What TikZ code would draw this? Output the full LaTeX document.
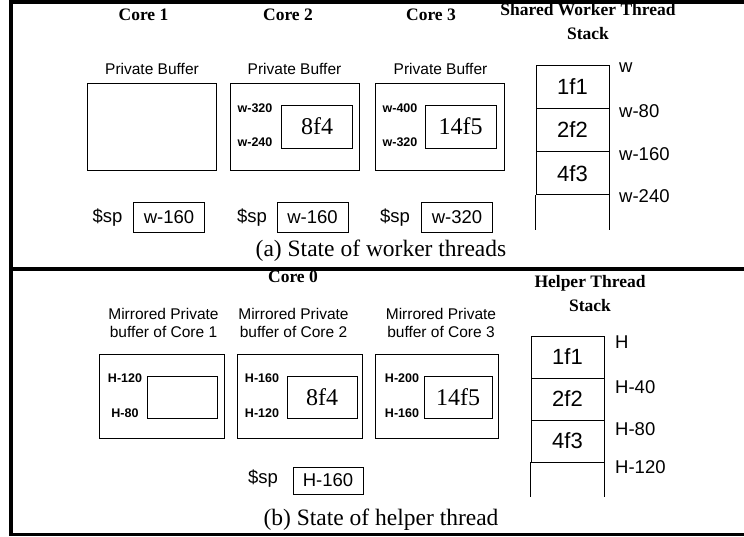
\documentclass[tikz,border=0pt]{standalone}
\usepackage{fontspec}
\setmainfont{Liberation Serif}
\setsansfont{Liberation Sans}

\begin{document}
\begin{tikzpicture}[x=1bp,y=-1bp,
  frame/.style={line width=3.3bp, line cap=rect},
  coretitle/.style={font=\fontsize{17.5bp}{20bp}\selectfont\bfseries, anchor=base, inner sep=0},
  buftitle/.style={font=\sffamily\fontsize{15.5bp}{19bp}\selectfont, anchor=base, inner sep=0},
  bufbox/.style={draw, line width=0.9bp, minimum width=129bp, minimum height=87bp, inner sep=0},
  innerbox/.style={draw, line width=0.9bp, minimum width=71bp, minimum height=43bp, inner sep=0,
                   font=\fontsize{24bp}{28bp}\selectfont},
  addr/.style={font=\sffamily\bfseries\fontsize{12.5bp}{14bp}\selectfont, anchor=base, inner sep=0},
  sptxt/.style={font=\sffamily\fontsize{18.5bp}{22bp}\selectfont, anchor=base, inner sep=0},
  spbox/.style={draw, line width=0.9bp, minimum width=71bp, minimum height=30bp, inner sep=0,
                font=\sffamily\fontsize{18.5bp}{22bp}\selectfont},
  cell/.style={draw, line width=0.9bp, minimum width=73bp, minimum height=43bp, inner sep=0,
               font=\sffamily\fontsize{22bp}{26bp}\selectfont},
  cellb/.style={cell, minimum height=42bp},
  stlabel/.style={font=\sffamily\fontsize{18.5bp}{22bp}\selectfont, anchor=base west, inner sep=0},
  caption/.style={font=\fontsize{23.5bp}{27bp}\selectfont, anchor=base, inner sep=0},
  wall/.style={line width=0.9bp}
]
\useasboundingbox (0,0) rectangle (744,537);

% ---------- frame ----------
\coordinate (tl) at (11,2);
\coordinate (tr) at (744,2);
\coordinate (ml) at (11,269);
\coordinate (mr) at (744,269);
\coordinate (bl) at (11,534.5);
\coordinate (br) at (744,534.5);
\draw[frame] (tr) -- (tl) -- (bl) -- (br);
\draw[frame, line width=3.8bp] (ml) -- (mr);

% ---------- (a) worker threads ----------
\node[coretitle] (core1) at (143.5,21) {Core 1};
\node[coretitle] (core2) at (288,21) {Core 2};
\node[coretitle] (core3) at (431,21) {Core 3};
\node[coretitle] (swt1) at (588,15.5) {Shared Worker Thread};
\node[coretitle] (swt2) at (588,39.5) {Stack};

\node[buftitle] (pb1) at (152,75) {Private Buffer};
\node[buftitle] (pb2) at (294.5,75) {Private Buffer};
\node[buftitle] (pb3) at (440.5,75) {Private Buffer};

\node[bufbox] (b1) at (151.5,126.5) {};
\node[bufbox] (b2) at (294.5,126.5) {};
\node[bufbox] (b3) at (439.5,126.5) {};

\node[innerbox] (f4) at (317,126.5) {8f4};
\node[innerbox] (f5) at (460.5,126.5) {14f5};

\node[addr] (a2t) at (255,112.3) {w-320};
\node[addr] (a2b) at (255,147) {w-240};
\node[addr] (a3t) at (400,112.3) {w-400};
\node[addr] (a3b) at (400,147) {w-320};

\node[sptxt] (sp1) at (107.5,223) {\$sp};
\node[spbox] (r1) at (169,217) {w-160};
\node[sptxt] (sp2) at (252,223) {\$sp};
\node[spbox] (r2) at (312.5,217) {w-160};
\node[sptxt] (sp3) at (395,223) {\$sp};
\node[spbox] (r3) at (457,217) {w-320};

\node[cell] (s1) at (572.5,86.7) {1f1};
\node[cell] (s2) at (572.5,130) {2f2};
\node[cell] (s3) at (572.5,173.3) {4f3};
\draw[wall] (s3.south west) -- ++(0,35);
\draw[wall] (s3.south east) -- ++(0,35);

\node[stlabel] (w0) at (619,73) {w};
\node[stlabel] (w1) at (619,118) {w-80};
\node[stlabel] (w2) at (619,161) {w-160};
\node[stlabel] (w3) at (619,203) {w-240};

\node[caption] (capa) at (381,257) {(a) State of worker threads};

% ---------- (b) helper thread ----------
\node[coretitle] (core0) at (293,283) {Core 0};
\node[coretitle] (ht1) at (590,288) {Helper Thread};
\node[coretitle] (ht2) at (590,311) {Stack};

\node[buftitle] (m1a) at (163.5,319) {Mirrored Private};
\node[buftitle] (m1b) at (163.5,337) {buffer of Core 1};
\node[buftitle] (m2a) at (293.5,319) {Mirrored Private};
\node[buftitle] (m2b) at (293.5,337) {buffer of Core 2};
\node[buftitle] (m3a) at (441,319) {Mirrored Private};
\node[buftitle] (m3b) at (441,337) {buffer of Core 3};

\node[bufbox, minimum width=125bp, minimum height=84bp] (hb1) at (161.5,396) {};
\node[bufbox, minimum width=125bp, minimum height=84bp] (hb2) at (300,396) {};
\node[bufbox, minimum width=123bp, minimum height=84bp] (hb3) at (436.5,396) {};

\node[innerbox, minimum width=70bp, minimum height=42bp] (hi1) at (182,397) {};
\node[innerbox, minimum width=70bp, minimum height=42bp] (hi2) at (322,397) {8f4};
\node[innerbox, minimum width=68bp, minimum height=42bp] (hi3) at (458,397) {14f5};

\node[addr] (h1t) at (125,382) {H-120};
\node[addr] (h1b) at (125,417) {H-80};
\node[addr] (h2t) at (262,382) {H-160};
\node[addr] (h2b) at (262,417) {H-120};
\node[addr] (h3t) at (402,382) {H-200};
\node[addr] (h3b) at (402,417) {H-160};

\node[sptxt] (sp0) at (263,483) {\$sp};
\node[spbox, minimum width=70bp, minimum height=27bp] (r0) at (328,480.5) {H-160};

\node[cellb] (t1) at (567.5,357) {1f1};
\node[cellb] (t2) at (567.5,399) {2f2};
\node[cellb] (t3) at (567.5,441) {4f3};
\draw[wall] (t3.south west) -- ++(0,35);
\draw[wall] (t3.south east) -- ++(0,35);

\node[stlabel] (hl0) at (615,348) {H};
\node[stlabel] (hl1) at (615,393) {H-40};
\node[stlabel] (hl2) at (615,435) {H-80};
\node[stlabel] (hl3) at (615,473) {H-120};

\node[caption] (capb) at (381,525) {(b) State of helper thread};
\end{tikzpicture}
\end{document}
